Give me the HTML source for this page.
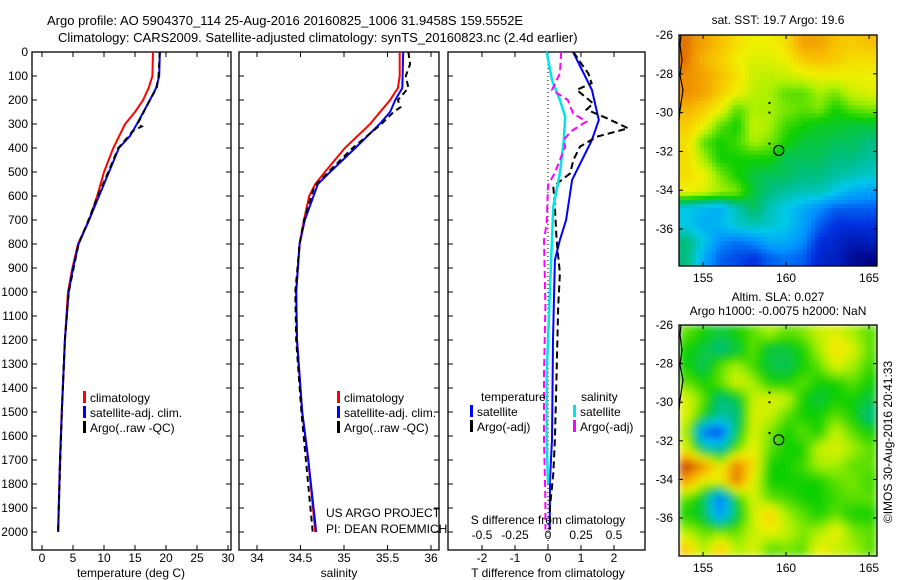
<!DOCTYPE html>
<html><head><meta charset="utf-8">
<style>
html,body{margin:0;padding:0;background:#fff;}
svg{display:block;font-family:"Liberation Sans",sans-serif;}
text{fill:#000;}
</style></head>
<body>
<svg id="chart" width="900" height="580" viewBox="0 0 900 580" xmlns="http://www.w3.org/2000/svg">
<defs>
<filter id="blur" x="0" y="0" width="1" height="1"><feGaussianBlur stdDeviation="4" edgeMode="duplicate"/></filter>
<clipPath id="clipSla"><rect x="679" y="325" width="198" height="231"/></clipPath>
</defs>
<text x="47" y="25" font-size="13">Argo profile: AO 5904370_114 25-Aug-2016 20160825_1006 31.9458S 159.5552E</text>
<text x="58" y="42" font-size="13">Climatology: CARS2009. Satellite-adjusted climatology: synTS_20160823.nc (2.4d earlier)</text>
<g id="g"></g>
</svg>
<script>
// ---------- data ----------
const tClimDepth = [0,100,150,200,250,300,400,500,600,700,800,900,1000,1200,1500,1700,2000];
const tClimVals  = [17.9,17.8,17.2,16.3,15.0,13.4,11.5,10.0,8.9,7.6,5.8,4.9,4.2,3.7,3.2,2.9,2.6];
const tSatDepth  = [0,100,150,200,300,350,400,500,600,700,800,900,1000,1200,1500,1700,2000];
const tSatVals   = [19.0,18.9,18.4,17.4,15.3,14.2,12.4,10.8,9.2,7.6,5.9,5.0,4.3,3.7,3.2,2.9,2.6];
const tArgoDepth = [0,100,150,200,300,310,330,350,400,500,600,700,800,1000,1200,1500,2000];
const tArgoVals  = [19.0,18.8,18.5,17.4,15.4,16.1,14.6,14.0,12.3,10.7,9.0,7.5,5.9,4.3,3.7,3.2,2.6];

const sClimDepth = [0,100,150,200,300,400,500,550,600,700,800,1000,1200,1500,1700,2000];
const sClimVals  = [35.64,35.64,35.62,35.53,35.30,35.01,34.78,34.67,34.60,34.54,34.49,34.45,34.46,34.52,34.59,34.67];
const sSatDepth  = [0,150,200,250,300,400,500,550,700,800,1000,1200,1500,1700,2000];
const sSatVals   = [35.68,35.67,35.59,35.53,35.41,35.13,34.84,34.70,34.55,34.49,34.45,34.46,34.52,34.59,34.68];
const sArgoDepth = [0,50,100,150,200,230,250,300,400,500,560,700,800,1000,1200,1500,2000];
const sArgoVals  = [35.74,35.76,35.71,35.74,35.62,35.65,35.57,35.43,35.10,34.82,34.66,34.54,34.49,34.44,34.45,34.51,34.64];

const dtSatDepth = [0,158,283,367,533,700,783,867,1200,1617,1783,1990];
const dtSatVals  = [0.76,1.33,1.54,1.33,0.73,0.55,0.36,0.21,0.15,0.12,0.06,0.05];
const dtArgoDepth = [0,61,89,130,158,214,240,276,318,353,394,450,506,561,644,783,922,1061,1339,1617,1756,1894,1990];
const dtArgoVals  = [0.77,1.07,1.22,1.32,0.87,1.37,1.17,1.78,2.43,1.48,0.97,0.77,0.67,0.16,0.21,0.26,0.36,0.31,0.26,0.21,0.16,0.06,0.06];
const dsSatDepth = [0,117,200,269,367,506,644,922,1339,1617,1800];
const dsSatVals  = [-0.01,0.03,0.09,0.13,0.12,0.09,0.04,0.02,-0.01,-0.01,0.0];
const dsArgoDepth = [0,89,158,200,256,290,332,367,394,506,554,714,783,1061,1339,1617,1867,1990];
const dsArgoVals  = [0.10,0.09,0.03,0.15,0.19,0.29,0.17,0.12,0.13,0.05,0.0,-0.01,-0.03,-0.02,-0.03,-0.03,-0.02,-0.02];

const depthTicks = [0,100,200,300,400,500,600,700,800,900,1000,1100,1200,1300,1400,1500,1600,1700,1800,1900,2000];
const tempTicks = [0,5,10,15,20,25,30];
const salTicks = [34,34.5,35,35.5,36];
const salTickLabels = ["34","34.5","35","35.5","36"];
const dtTicks = [-2,-1,0,1,2];
const dsTicks = [-0.5,-0.25,0,0.25,0.5];
const dsTickLabels = ["-0.5","-0.25","0","0.25","0.5"];
const lonTicks = [155,160,165];
const latTicks = [-26,-28,-30,-32,-34,-36];

const sstGrid = [
[.9,.85,.8,.75,.72,.72,.75,.85,.85,.8,.78,.8],
[.9,.82,.78,.72,.7,.7,.72,.78,.8,.78,.75,.75],
[.88,.85,.8,.75,.68,.67,.68,.7,.72,.72,.72,.72],
[.88,.85,.78,.72,.67,.65,.6,.6,.65,.62,.68,.7],
[.82,.78,.72,.6,.65,.65,.62,.6,.62,.55,.6,.62],
[.78,.72,.6,.55,.68,.65,.58,.55,.52,.52,.5,.5],
[.75,.6,.55,.58,.65,.62,.55,.5,.5,.48,.48,.45],
[.75,.65,.55,.55,.55,.55,.48,.48,.48,.45,.45,.42],
[.75,.72,.62,.55,.5,.48,.48,.45,.45,.42,.4,.38],
[.72,.7,.65,.62,.5,.45,.42,.4,.4,.35,.3,.28],
[.35,.32,.3,.4,.48,.4,.35,.3,.25,.2,.2,.2],
[.35,.3,.32,.38,.4,.38,.35,.28,.2,.15,.15,.15],
[.45,.35,.25,.22,.25,.3,.3,.25,.15,.12,.08,.1],
[.45,.3,.2,.18,.15,.2,.22,.2,.12,.1,.04,.02]];
const slaGrid = [
[.6,.55,.5,.55,.6,.65,.6,.62,.68,.7,.65,.6],
[.55,.5,.45,.5,.6,.5,.5,.55,.65,.75,.7,.6],
[.55,.48,.6,.65,.58,.5,.48,.55,.6,.7,.65,.58],
[.6,.55,.6,.7,.65,.55,.55,.6,.55,.55,.6,.55],
[.7,.6,.45,.5,.68,.7,.68,.55,.5,.55,.55,.5],
[.7,.55,.42,.45,.7,.68,.6,.55,.55,.6,.55,.45],
[.65,.2,.15,.5,.7,.62,.55,.6,.55,.68,.6,.55],
[.7,.45,.4,.6,.72,.6,.55,.55,.68,.7,.65,.6],
[.95,.88,.7,.9,.75,.55,.55,.58,.65,.65,.6,.6],
[.85,.7,.72,.9,.7,.55,.55,.55,.55,.6,.62,.58],
[.6,.5,.2,.55,.7,.6,.58,.55,.55,.58,.6,.6],
[.55,.5,.25,.5,.68,.78,.65,.6,.55,.6,.55,.55],
[.65,.6,.6,.6,.68,.72,.68,.62,.65,.72,.62,.6],
[.78,.65,.78,.65,.7,.6,.62,.6,.72,.68,.65,.6]];

// ---------- helpers ----------
const NS="http://www.w3.org/2000/svg";
const G=document.getElementById('g');
function mk(tag,attrs,parent){const e=document.createElementNS(NS,tag);for(const k in attrs)e.setAttribute(k,attrs[k]);(parent||G).appendChild(e);return e;}
const yD = d => 52 + 0.24*d;
const xT = v => 42 + 6.2*v;
const xS = v => 257 + 87*(v-34);
const xDT = v => 548 + 33*v;
const xDS = v => 548 + 132*v;
const xLon = v => 679 + 16.6*(v-153.55);
const ySst = v => 35 + 19.4*(-26 - v);
const ySla = v => 325 + 19.3*(-26 - v);

function frame(x0,x1,name){
  const r=mk('rect',{x:x0,y:52,width:x1-x0,height:498,fill:'none',stroke:'#000','stroke-width':1.3});
  
  
  depthTicks.forEach(d=>{
    mk('line',{x1:x0,x2:x0+5,y1:yD(d),y2:yD(d),stroke:'#000'});
    mk('line',{x1:x1-5,x2:x1,y1:yD(d),y2:yD(d),stroke:'#000'});
  });
}
function xticks(ticks,fx,labels,ly,name){
  ticks.forEach((t,i)=>{
    mk('line',{x1:fx(t),x2:fx(t),y1:52,y2:57,stroke:'#000'});
    mk('line',{x1:fx(t),x2:fx(t),y1:545,y2:550,stroke:'#000'});
    const tx=mk('text',{x:fx(t),y:ly,'font-size':12,'text-anchor':'middle'});
    tx.textContent=labels?labels[i]:String(t);
    
    
  });
}
function line(depths,vals,fx,color,dash,name,w){
  const p=depths.map((d,i)=>fx(vals[i]).toFixed(1)+','+yD(d).toFixed(1)).join(' ');
  const e=mk('polyline',{points:p,fill:'none',stroke:color,'stroke-width':w||2});
  if(dash)e.setAttribute('stroke-dasharray',dash);
  
  
}
function text(x,y,s,name,size,anchor){
  const t=mk('text',{x:x,y:y,'font-size':size||12,'text-anchor':anchor||'start'});
  t.textContent=s;
  
  
  return t;
}
function legend(x,y,color,label,name){
  mk('rect',{x:x,y:y-6,width:3,height:12,fill:color});
  text(x+7,y+5,label,name,12);
}

// ---------- panel 1: temperature ----------
frame(32,231,'temperature-panel');
depthTicks.forEach(d=>{text(28,yD(d)+4,String(d),'depth-tick-label',12,'end');});
xticks(tempTicks,xT,null,562,'temp-tick-label');
text(131,577,'temperature (deg C)','temperature-axis-title',12,'middle');
line(tClimDepth,tClimVals,xT,'#ff0000',null,'temp-climatology-line');
line(tSatDepth,tSatVals,xT,'#0000ff',null,'temp-satellite-line');
line(tArgoDepth,tArgoVals,xT,'#000000','6,4','temp-argo-line');
legend(83,397,'#ff0000','climatology','legend-climatology');
legend(83,412,'#0000ff','satellite-adj. clim.','legend-satellite');
legend(83,427,'#000000','Argo(..raw -QC)','legend-argo');

// ---------- panel 2: salinity ----------
frame(239,439,'salinity-panel');
xticks(salTicks,xS,salTickLabels,562,'sal-tick-label');
text(339,577,'salinity','salinity-axis-title',12,'middle');
line(sClimDepth,sClimVals,xS,'#ff0000',null,'sal-climatology-line');
line(sSatDepth,sSatVals,xS,'#0000ff',null,'sal-satellite-line');
line(sArgoDepth,sArgoVals,xS,'#000000','6,4','sal-argo-line');
legend(337,397,'#ff0000','climatology','legend-climatology-2');
legend(337,412,'#0000ff','satellite-adj. clim.','legend-satellite-2');
legend(337,427,'#000000','Argo(..raw -QC)','legend-argo-2');
text(326,517,'US ARGO PROJECT','project-label',12);
text(326,533,'PI: DEAN ROEMMICH','pi-label',12);

// ---------- panel 3: differences ----------
frame(448,645,'difference-panel');
mk('line',{x1:xDT(0),x2:xDT(0),y1:52,y2:550,stroke:'#000','stroke-dasharray':'1,3'});
dtTicks.forEach(t=>{
  mk('line',{x1:xDT(t),x2:xDT(t),y1:545,y2:550,stroke:'#000'});
  text(xDT(t),562,String(t),'dt-tick-label',12,'middle');
});
dsTicks.forEach((t,i)=>{
  mk('line',{x1:xDS(t),x2:xDS(t),y1:52,y2:57,stroke:'#000'});
  text(xDS(t),539,dsTickLabels[i],'ds-tick-label',12,'middle');
});
text(548,524,'S difference from climatology','s-diff-axis-title',12,'middle');
text(548,577,'T difference from climatology','t-diff-axis-title',12,'middle');
line(dtSatDepth,dtSatVals,xDT,'#0000ff',null,'dt-satellite-line');
line(dtArgoDepth,dtArgoVals,xDT,'#000000','7,4','dt-argo-line');
line(dsSatDepth,dsSatVals,xDS,'#00e5e5',null,'ds-satellite-line',2.5);
line(dsArgoDepth,dsArgoVals,xDS,'#ff00ff','7,4','ds-argo-line');
text(481,401,'temperature','legend-temperature-heading',12);
legend(470,411,'#0000ff','satellite','legend-dt-satellite');
legend(470,426,'#000000','Argo(-adj)','legend-dt-argo');
text(581,401,'salinity','legend-salinity-heading',12);
legend(573,411,'#00e5e5','satellite','legend-ds-satellite');
legend(573,426,'#ff00ff','Argo(-adj)','legend-ds-argo');

// ---------- maps ----------
const stops=[[0,[0,0,127]],[0.15,[0,48,224]],[0.25,[0,144,255]],[0.35,[0,200,232]],[0.45,[0,190,128]],[0.55,[16,208,0]],[0.65,[168,240,0]],[0.72,[240,240,0]],[0.8,[248,192,0]],[0.88,[240,144,0]],[0.95,[192,48,0]],[1,[160,20,0]]];
function cmap(v){v=Math.max(0,Math.min(1,v));for(let i=1;i<stops.length;i++){if(v<=stops[i][0]){const a=stops[i-1],b=stops[i],f=(v-a[0])/(b[0]-a[0]);const c=a[1].map((x,k)=>Math.round(x+(b[1][k]-x)*f));return 'rgb('+c.join(',')+')';}}return 'rgb(160,20,0)';}
function sample(grid,fr,fc){
  const nr=grid.length,nc=grid[0].length;
  fr=Math.max(0,Math.min(nr-1,fr));fc=Math.max(0,Math.min(nc-1,fc));
  const r0=Math.floor(fr),c0=Math.floor(fc),r1=Math.min(nr-1,r0+1),c1=Math.min(nc-1,c0+1);
  const a=fr-r0,b=fc-c0;
  return grid[r0][c0]*(1-a)*(1-b)+grid[r0][c1]*(1-a)*b+grid[r1][c0]*a*(1-b)+grid[r1][c1]*a*b;
}
function drawMap(grid,y0,yf,name,blur,up){
  const x0=679,w=198,h=231;
  const wrap=mk('g',{});
  
  
  let inner=wrap;
  if(blur){const cg=mk('g',{'clip-path':'url(#clipSla)'},wrap);inner=mk('g',{filter:'url(#blur)'},cg);}
  const nr=grid.length*up,nc=grid[0].length*up,cw=w/nc,ch=h/nr;
  for(let r=0;r<nr;r++)for(let c=0;c<nc;c++){
    const v=sample(grid,(r+0.5)/up-0.5,(c+0.5)/up-0.5);
    const cell=mk('rect',{x:(x0+c*cw).toFixed(2),y:(y0+r*ch).toFixed(2),width:(cw+0.5).toFixed(2),height:(ch+0.5).toFixed(2),fill:cmap(v)},inner);
    
    
  }
  mk('polyline',{points:`681,${y0} 680,${y0+10} 682,${y0+25} 680,${y0+40} 683,${y0+55} 680,${y0+75} 679,${y0+85}`,fill:'none',stroke:'#000','stroke-width':1.2},wrap);
  mk('rect',{x:x0,y:y0,width:w,height:h,fill:'none',stroke:'#000','stroke-width':1.3},wrap);
  latTicks.forEach(l=>{
    const y=yf(l);
    mk('line',{x1:x0,x2:x0+4,y1:y,y2:y,stroke:'#000'},wrap);
    mk('line',{x1:x0+w-4,x2:x0+w,y1:y,y2:y,stroke:'#000'},wrap);
    text(673,y+4,String(l),'lat-tick-label',12,'end');
  });
  lonTicks.forEach(l=>{
    const x=xLon(l);
    mk('line',{x1:x,x2:x,y1:y0,y2:y0+4,stroke:'#000'},wrap);
    mk('line',{x1:x,x2:x,y1:y0+h-4,y2:y0+h,stroke:'#000'},wrap);
    text(x,y0+h+16,String(l),'lon-tick-label',12,'middle');
  });
  [[159.0,-29.5],[159.0,-30.0],[159.0,-31.6]].forEach(p=>mk('rect',{x:xLon(p[0])-1,y:yf(p[1])-1,width:2,height:2,fill:'#000'},wrap));
  const c=mk('circle',{cx:xLon(159.56),cy:yf(-31.95),r:5,fill:'none',stroke:'#000','stroke-width':1.2},wrap);
  
  
}
drawMap(sstGrid,35,ySst,'sst-map',false,4);
drawMap(slaGrid,325,ySla,'sla-map',true,3);
text(778,24,'sat. SST: 19.7 Argo: 19.6','sst-map-title',12,'middle');
text(778,301,'Altim. SLA: 0.027','sla-map-title',12,'middle');
text(778,315,'Argo h1000: -0.0075 h2000: NaN','sla-map-subtitle',12,'middle');
const r=text(0,0,'\u00A9IMOS 30-Aug-2016 20:41:33','timestamp-label',12,'middle');
r.setAttribute('transform','translate(892,442) rotate(-90)');
</script>
</body></html>
